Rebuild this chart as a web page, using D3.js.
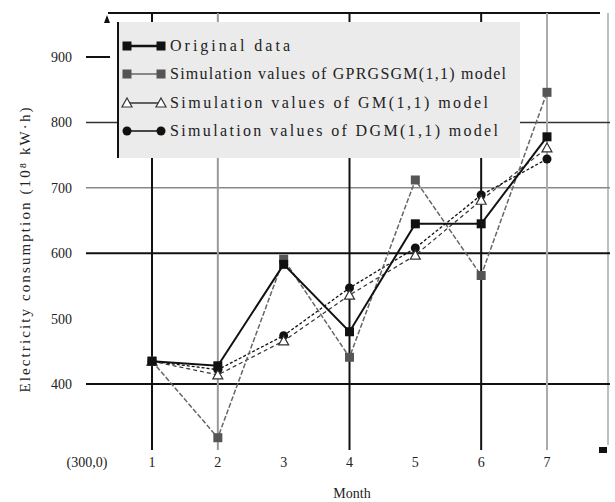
<!DOCTYPE html>
<html><head><meta charset="utf-8">
<script src="https://cdn.jsdelivr.net/npm/d3@7"></script>
<style>body{margin:0;background:#fff}svg{display:block}text{font-family:"Liberation Serif","Times New Roman",serif;fill:#222}</style>
</head><body>
<svg id="c" width="615" height="502"></svg>
<script>
const months = [1, 2, 3, 4, 5, 6, 7];
const original = [435, 428, 583, 480, 645, 645, 778];
const gprgsgm = [435, 318, 591, 441, 712, 566, 846];
const gm = [435, 414, 466, 536, 597, 681, 761];
const dgm = [435, 422, 474, 547, 608, 689, 744];
const yTicks = [400, 500, 600, 700, 800, 900];
const seriesNames = ["Original data", "Simulation values of GPRGSGM(1,1) model", "Simulation values of GM(1,1) model", "Simulation values of DGM(1,1) model"];

const svg = d3.select("#c");
const x = d3.scaleLinear().domain([1, 7]).range([152, 547]);
const y = d3.scaleLinear().domain([300, 900]).range([449.5, 57]);

// frame
svg.append("line").attr("x1", 108).attr("x2", 600).attr("y1", 13).attr("y2", 13).attr("stroke", "#111").attr("stroke-width", 2);
svg.append("path").attr("d", "M107,15 L104,23 L110,23 Z").attr("fill", "#111");
svg.append("line").attr("x1", 608).attr("x2", 608).attr("y1", 13).attr("y2", 445).attr("stroke", "#aaa").attr("stroke-width", 1.5);
svg.append("rect").attr("x", 599).attr("y", 447).attr("width", 8).attr("height", 6).attr("fill", "#111");

// horizontal grid
const hGrid = [{v: 400, c: "#111", w: 2}, {v: 600, c: "#111", w: 2}, {v: 700, c: "#888", w: 1.5}, {v: 800, c: "#333", w: 1.5}];
hGrid.forEach(g => svg.append("line").attr("x1", 86).attr("x2", 610).attr("y1", y(g.v)).attr("y2", y(g.v)).attr("stroke", g.c).attr("stroke-width", g.w));
svg.append("line").attr("x1", 86).attr("x2", 110).attr("y1", y(900)).attr("y2", y(900)).attr("stroke", "#111").attr("stroke-width", 2);

// vertical grid
const vGrid = [{m: 1, c: "#111"}, {m: 2, c: "#999"}, {m: 4, c: "#111"}, {m: 6, c: "#111"}, {m: 7, c: "#aaa"}];
vGrid.forEach(g => svg.append("line").attr("x1", x(g.m)).attr("x2", x(g.m)).attr("y1", 13).attr("y2", 450).attr("stroke", g.c).attr("stroke-width", 2));

// y tick labels
svg.selectAll(".yl").data(yTicks).join("text").attr("x", 72).attr("y", d => y(d) + 5)
  .attr("text-anchor", "end").attr("font-size", 14).text(d => d);
// x tick labels
svg.selectAll(".xl").data(months).join("text").attr("x", d => x(d)).attr("y", 467)
  .attr("text-anchor", "middle").attr("font-size", 14).text(d => d);
svg.append("text").attr("x", 87).attr("y", 467).attr("text-anchor", "middle").attr("font-size", 14).text("(300,0)");
svg.append("text").attr("x", 352).attr("y", 498).attr("text-anchor", "middle").attr("font-size", 14).text("Month");
svg.append("text").attr("transform", "translate(30,250) rotate(-90)").attr("text-anchor", "middle").attr("font-size", 15)
  .attr("textLength", 285).attr("lengthAdjust", "spacing")
  .text("Electricity consumption (10⁸ kW·h)");

// legend
const lg = svg.append("g");
lg.append("rect").attr("x", 118).attr("y", 22).attr("width", 402).attr("height", 136).attr("fill", "#ebebeb");
lg.append("line").attr("x1", 118).attr("x2", 118).attr("y1", 22).attr("y2", 158).attr("stroke", "#111").attr("stroke-width", 2);

const styles = [
  {data: original, stroke: "#111", w: 2, dash: null, marker: "square", fill: "#111"},
  {data: gprgsgm, stroke: "#666", w: 1.5, dash: "5,2", marker: "square", fill: "#555"},
  {data: gm, stroke: "#333", w: 1.2, dash: "4,3", marker: "triangle", fill: "#fff"},
  {data: dgm, stroke: "#111", w: 1.3, dash: "3,2", marker: "circle", fill: "#111"}
];
function marker(g, type, cx, cy, fill, stroke) {
  if (type === "square") g.append("rect").attr("x", cx - 4.5).attr("y", cy - 4.5).attr("width", 9).attr("height", 9).attr("fill", fill);
  else if (type === "circle") g.append("circle").attr("cx", cx).attr("cy", cy).attr("r", 4.5).attr("fill", fill);
  else g.append("path").attr("d", `M${cx},${cy - 5} L${cx + 5},${cy + 4} L${cx - 5},${cy + 4} Z`).attr("fill", fill).attr("stroke", stroke).attr("stroke-width", 1.2);
}
const legY = [46, 74, 103, 131];
const legW = [120, 336, 318, 328];
styles.forEach((s, i) => {
  lg.append("line").attr("x1", 126).attr("x2", 162).attr("y1", legY[i]).attr("y2", legY[i]).attr("stroke", s.stroke).attr("stroke-width", i === 0 ? 2.5 : 1.5);
  marker(lg, s.marker, 127, legY[i], s.fill, s.stroke);
  marker(lg, s.marker, 161, legY[i], s.fill, s.stroke);
  lg.append("text").attr("x", 170).attr("y", legY[i] + 5).attr("font-size", 16)
    .attr("textLength", legW[i]).attr("lengthAdjust", "spacing").text(seriesNames[i]);
});

// series
const line = d3.line().x((d, i) => x(months[i])).y(d => y(d));
styles.slice().reverse().forEach(s => {
  svg.append("path").datum(s.data).attr("d", line).attr("fill", "none").attr("stroke", s.stroke)
    .attr("stroke-width", s.w).attr("stroke-dasharray", s.dash);
  const g = svg.append("g");
  s.data.forEach((v, i) => marker(g, s.marker, x(months[i]), y(v), s.fill, s.stroke));
});
</script>
</body></html>
